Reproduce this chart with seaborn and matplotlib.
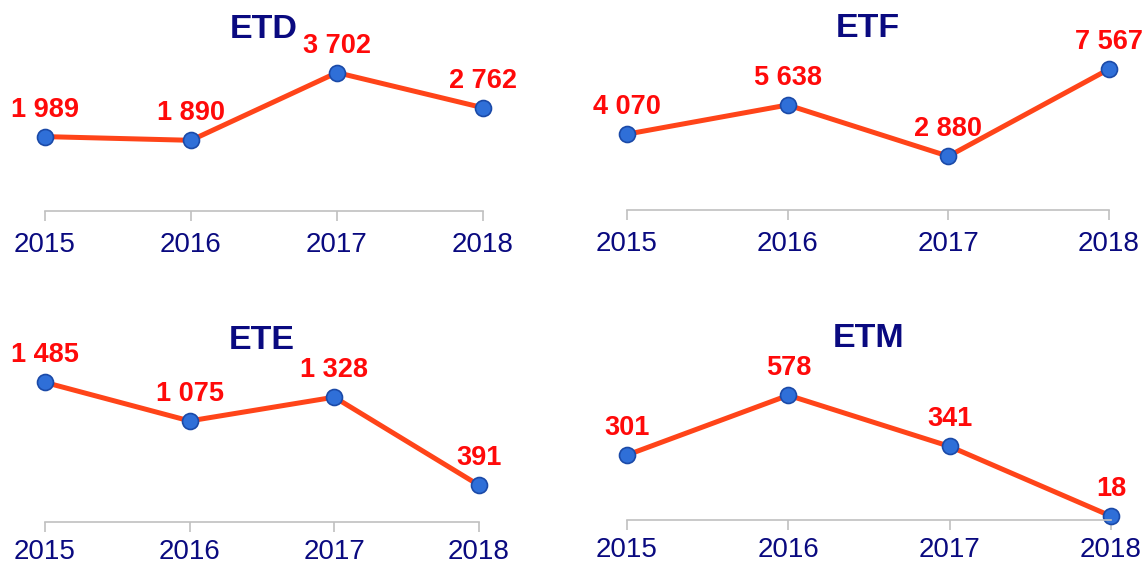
import matplotlib
matplotlib.use('Agg')
import matplotlib.pyplot as plt
import pandas as pd
import seaborn as sns

sns.set_style('white')
plt.rcParams['font.family'] = ['Liberation Sans', 'DejaVu Sans']

years = [2015, 2016, 2017, 2018]
titles = ['ETD', 'ETF', 'ETE', 'ETM']
etd = [1989, 1890, 3702, 2762]
etf = [4070, 5638, 2880, 7567]
ete = [1485, 1075, 1328, 391]
etm = [301, 578, 341, 18]
series = [etd, etf, ete, etm]

# axes placement (figure fractions) and top of y range for each panel
boxes = [
    [0.0393, 0.626, 0.3825, 0.2855],
    [0.5476, 0.628, 0.4210, 0.2855],
    [0.0393, 0.0745, 0.3790, 0.287],
    [0.5476, 0.078, 0.4227, 0.287],
]
ytops = [4309, 8660, 1722, 750]
pads = [8, 8, 5.5, 5.5]

navy = '#0a0a80'
fig = plt.figure(figsize=(11.45, 5.64), dpi=100)

for title, vals, box, ytop, pad in zip(titles, series, boxes, ytops, pads):
    ax = fig.add_axes(box)
    df = pd.DataFrame({'year': years, 'value': vals})
    sns.lineplot(data=df, x='year', y='value', ax=ax, color='#ff4419',
                 linewidth=3.6, marker='o', markersize=11.5,
                 markerfacecolor='#2f6fd8', markeredgecolor='#1b4aa8',
                 markeredgewidth=1.2, clip_on=False)
    for x, v in zip(years, vals):
        ax.annotate(f'{v:,}'.replace(',', ' '), (x, v), xytext=(0, 19.5),
                    textcoords='offset points', ha='center', va='center',
                    color='#ff0a0a', fontsize=19.5, fontweight='bold')
    ax.set_xlim(years[0], years[-1])
    ax.set_ylim(0, ytop)
    ax.set_xticks(years)
    ax.set_xticklabels([str(y) for y in years])
    ax.set_yticks([])
    ax.set_xlabel('')
    ax.set_ylabel('')
    for s in ['top', 'left', 'right']:
        ax.spines[s].set_visible(False)
    ax.spines['bottom'].set_color('#c0c0c0')
    ax.spines['bottom'].set_linewidth(1.2)
    ax.tick_params(axis='x', bottom=True, direction='out', length=7,
                   width=1.2, color='#c0c0c0', labelsize=20,
                   labelcolor=navy, pad=pad)
    ax.text(0.5, 1.124, title, transform=ax.transAxes, ha='center',
            va='center', color=navy, fontsize=24.5, fontweight='bold')
    ax.patch.set_alpha(0)

fig.savefig('out.png', dpi=100)
